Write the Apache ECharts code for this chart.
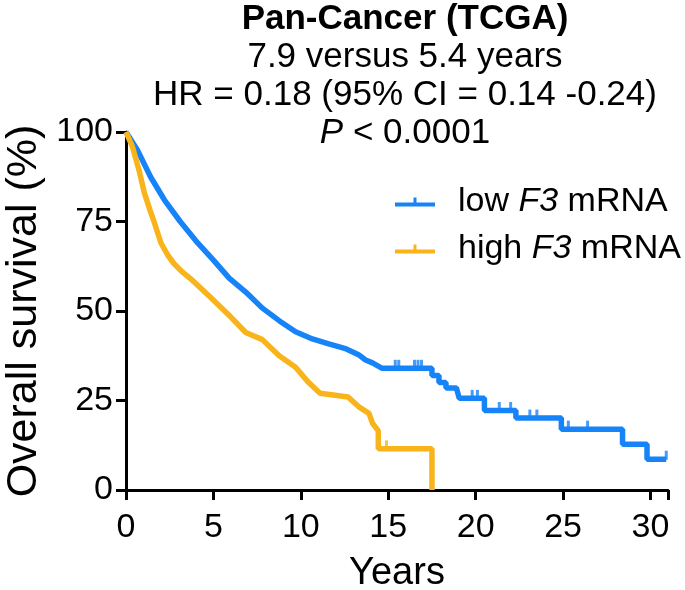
<!DOCTYPE html>
<html>
<head>
<meta charset="utf-8">
<script src="https://cdn.jsdelivr.net/npm/echarts@6/dist/echarts.min.js"></script>
<style>html,body{margin:0;padding:0;background:#fff}#c{width:685px;height:590px}</style>
</head>
<body>
<div id="c"></div>
<script>
// ---- data ----
const lowYears = [0, 0.65, 1.4, 2.2, 3.1, 4.1, 5.0, 5.9, 6.85, 7.8, 8.76, 9.7, 10.66, 11.6, 12.6, 13.3, 13.7, 14.1, 14.65, 17.5, 17.5, 17.9, 17.9, 18.3, 18.3, 18.9, 19.06, 20.5, 20.5, 22.3, 22.3, 24.9, 24.9, 28.4, 28.4, 29.8, 29.8, 30.9];
const lowSurv  = [100, 95, 87.5, 81, 75, 69, 64.2, 59.2, 55.3, 50.8, 47.3, 44.2, 42.2, 40.8, 39.4, 37.8, 36.3, 35.5, 34, 34, 32, 32, 30, 30, 28.5, 28.5, 25.6, 25.6, 22.2, 22.2, 20.1, 20.1, 17, 17, 12.8, 12.8, 8.6, 8.6];
const highYears = [0, 0.36, 0.74, 1.05, 1.35, 1.6, 2.0, 2.4, 2.75, 3.2, 3.7, 4.8, 6.0, 6.85, 7.8, 8.76, 9.7, 10.45, 11.1, 12.7, 13.3, 13.9, 14.1, 14.43, 14.43, 17.5, 17.5];
const highSurv  = [100, 96, 89.4, 83, 78.5, 75, 69, 65.5, 63.2, 61, 59, 54, 48.3, 44, 42, 37.5, 34.3, 30, 27, 26, 23.3, 21.4, 18.6, 16.5, 11.5, 11.5, 0];
const lowCensorYears = [15.4, 15.6, 16.5, 16.7, 16.9, 19.8, 20.1, 21.35, 22.0, 23.1, 23.5, 25.3, 26.4, 30.9];
const lowCensorSurv  = [34, 34, 34, 34, 34, 25.6, 25.6, 22.2, 22.2, 20.1, 20.1, 17, 17, 8.6];
const highCensorYears = [14.9];
const highCensorSurv  = [11.5];
const xTicks = [0, 5, 10, 15, 20, 25, 30];
const yTicks = [0, 25, 50, 75, 100];
const seriesNames = ['low F3 mRNA', 'high F3 mRNA'];
const colors = ['#1684F8', '#F8B41A'];

const zip = (a, b) => a.map((v, i) => [v, b[i]]);
const FONT = 'Liberation Sans, Arial, Helvetica, sans-serif';

const chart = echarts.init(document.getElementById('c'), null, {renderer: 'canvas'});
const axisCommon = {
  axisLine: {show: true, lineStyle: {color: '#000', width: 3}},
  axisTick: {show: true, inside: false, length: 10, lineStyle: {color: '#000', width: 3}},
  splitLine: {show: false},
  axisLabel: {color: '#000', fontSize: 34, fontFamily: FONT},
  nameTextStyle: {color: '#000', fontFamily: FONT}
};
const censorSymbol = {symbol: 'rect', symbolSize: [3, 9], symbolOffset: [0, -4]};

chart.setOption({
  animation: false,
  backgroundColor: '#fff',
  grid: {left: 126, right: 17, top: 132, bottom: 100, containLabel: false, outerBoundsMode: 'none'},
  graphic: [{
    type: 'text', x: 405, y: 0,
    style: {
      text: '{b|Pan-Cancer (TCGA)}\n{n|7.9 versus 5.4 years}\n{n|HR = 0.18 (95% CI = 0.14 -0.24)}\n{i|P}{n| < 0.0001}',
      align: 'center', verticalAlign: 'top',
      rich: {
        b: {fontSize: 35, fontWeight: 'bold', fontFamily: FONT, fill: '#000', lineHeight: 38},
        n: {fontSize: 35, fontFamily: FONT, fill: '#000', lineHeight: 38},
        i: {fontSize: 35, fontStyle: 'italic', fontFamily: FONT, fill: '#000', lineHeight: 38}
      }
    }
  }],
  legend: {
    data: seriesNames,
    orient: 'vertical', left: 395, top: 185, itemGap: 13, padding: 0,
    itemWidth: 40, itemHeight: 10,
    icon: 'path://M0,5L40,5L40,9L0,9Z M18.5,0L21.5,0L21.5,5L18.5,5Z',
    formatter: (name) => name === seriesNames[0] ? '{n|low }{i|F3}{n| mRNA}' : '{n|high }{i|F3}{n| mRNA}',
    textStyle: {
      padding: [0, 0, 0, 18],
      rich: {
        n: {fontSize: 34, fontFamily: FONT, color: '#000', lineHeight: 36},
        i: {fontSize: 34, fontFamily: FONT, fontStyle: 'italic', color: '#000', lineHeight: 36}
      }
    }
  },
  xAxis: Object.assign({}, axisCommon, {
    type: 'value', min: 0, max: 31, interval: 5,
    name: 'Years', nameLocation: 'middle', nameGap: 65,
    nameTextStyle: {color: '#000', fontFamily: FONT, fontSize: 38},
    axisLabel: Object.assign({}, axisCommon.axisLabel, {margin: 21, formatter: v => xTicks.includes(v) ? String(v) : ''})
  }),
  yAxis: Object.assign({}, axisCommon, {
    type: 'value', min: 0, max: 100, interval: 25,
    name: 'Overall survival (%)', nameLocation: 'middle', nameGap: 80,
    nameTextStyle: {color: '#000', fontFamily: FONT, fontSize: 43},
    axisLabel: Object.assign({}, axisCommon.axisLabel, {margin: 13, formatter: v => yTicks.includes(v) ? String(v) : ''})
  }),
  series: [
    {name: seriesNames[0], type: 'line', data: zip(lowYears, lowSurv), showSymbol: false, symbol: 'none',
     lineStyle: {color: colors[0], width: 5.5}, itemStyle: {color: colors[0]}, z: 2},
    {name: seriesNames[1], type: 'line', data: zip(highYears, highSurv), showSymbol: false, symbol: 'none',
     lineStyle: {color: colors[1], width: 5.5}, itemStyle: {color: colors[1]}, z: 3},
    Object.assign({name: 'lowCensor', type: 'scatter', data: zip(lowCensorYears, lowCensorSurv), itemStyle: {color: colors[0]}, z: 2}, censorSymbol),
    Object.assign({name: 'highCensor', type: 'scatter', data: zip(highCensorYears, highCensorSurv), itemStyle: {color: colors[1]}, z: 3}, censorSymbol)
  ]
});
</script>
</body>
</html>
